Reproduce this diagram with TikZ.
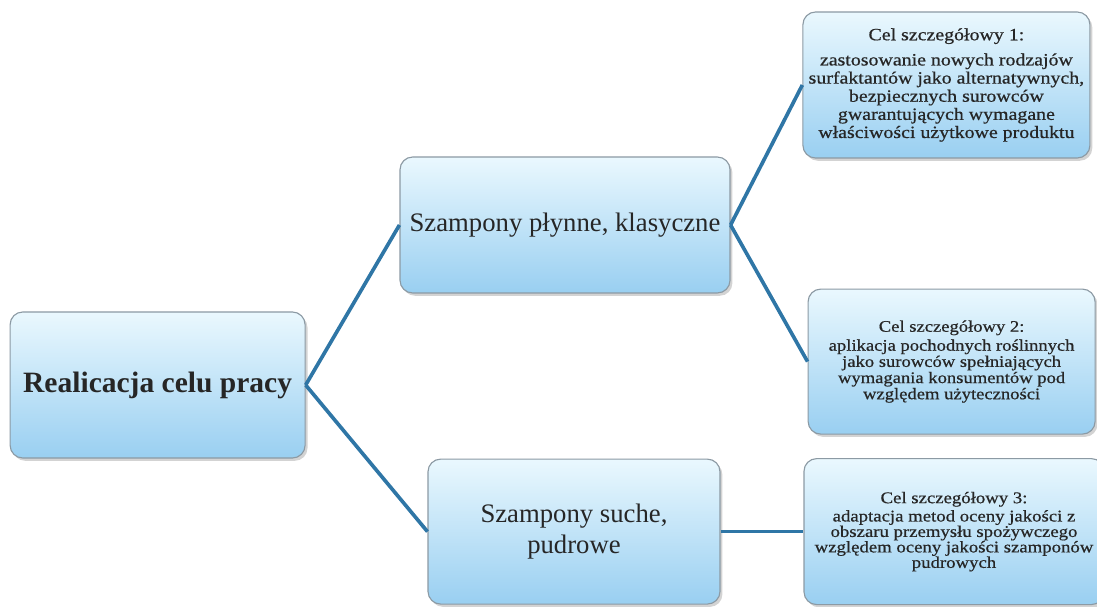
\documentclass[tikz,border=0pt]{standalone}
\usepackage{fontspec}
\setmainfont{Liberation Serif}
\newfontfamily\celfont[FakeStretch=1.15,FakeBold=0.6]{Liberation Serif}
\usepackage{tikz}
\usetikzlibrary{shadows}

\definecolor{linkblue}{HTML}{2F76A6}
\definecolor{boxtop}{HTML}{EAF8FE}
\definecolor{boxbottom}{HTML}{99CFF1}
\definecolor{boxborder}{HTML}{8C9AA4}

\begin{document}
\begin{tikzpicture}[
		    box/.style={draw=boxborder,line width=0.8pt,rounded corners=9pt,top color=boxtop,bottom color=boxbottom,
		        drop shadow={opacity=0.35,shadow xshift=0.06,shadow yshift=-0.07},inner sep=2pt,align=center,text=black!85},
		    link/.style={draw=linkblue,line width=2.6pt}]
		    \useasboundingbox (0,0) rectangle (27.425,15.15);
		
		    \node[box,minimum width=7.375cm,minimum height=3.65cm,font=\fontsize{21}{24}\selectfont\bfseries] (root) at (3.94,5.525){Realicacja celu pracy};
		
		    \node[box,minimum width=8.25cm,minimum height=3.4cm,font=\fontsize{19}{22}\selectfont] (plynne) at (14.125,9.525){Szampony płynne, klasyczne};
		    \node[box,minimum width=7.3cm,minimum height=3.625cm,font=\fontsize{19}{22}\selectfont] (suche) at (14.35,1.86){Szampony suche,\\pudrowe};
		
		    \node[box,minimum width=7.175cm,minimum height=3.65cm,font=\celfont\fontsize{12.3}{12.9}\selectfont] (cel1) at (23.66,13.025){Cel szczegółowy 1:\\[5pt]zastosowanie nowych rodzajów\\surfaktantów jako alternatywnych,\\bezpiecznych surowców\\gwarantujących wymagane\\właściwości użytkowe produktu};
		    \node[box,minimum width=7.175cm,minimum height=3.625cm,font=\celfont\fontsize{11.5}{11.5}\selectfont] (cel2) at (23.79,6.11){Cel szczegółowy 2:\\[2pt]aplikacja pochodnych roślinnych\\jako surowców spełniających\\wymagania konsumentów pod\\względem użyteczności};
		    \node[box,minimum width=7.5cm,minimum height=3.65cm,font=\celfont\fontsize{11.6}{11}\selectfont] (cel3) at (23.85,1.86){Cel szczegółowy 3:\\[2pt]adaptacja metod oceny jakości z\\obszaru przemysłu spożywczego\\względem oceny jakości szamponów\\pudrowych};
		
		    \draw[link] (root.east) -- (plynne.west);
		    \draw[link] (root.east) -- (suche.west);
		
		    \draw[link] (plynne.east) -- (cel1.west);
		    \draw[link] (plynne.east) -- (cel2.west);
		
		    \draw[link] (suche.east) -- (cel3.west);
	    \end{tikzpicture}
\end{document}
